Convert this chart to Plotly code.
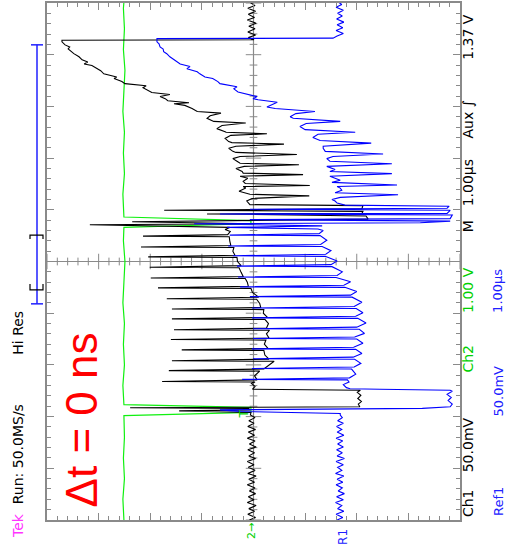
import plotly.graph_objects as go

# ---------------- data (time in µs = horizontal divisions, amplitude in vertical divisions) -------------
CH1_PRE = [(0.00,0.08),(0.05,-0.04),(0.11,0.11),(0.17,-0.02),(0.22,0.09),(0.28,-0.05),(0.34,0.12),(0.39,-0.01),
           (0.45,0.10),(0.51,-0.04),(0.56,0.08),(0.62,-0.03),(0.68,0.12),(0.73,-0.02),(0.79,0.09),(0.85,-0.05),
           (0.90,0.11),(0.96,-0.03),(1.02,0.10),(1.07,-0.01),(1.13,0.12),(1.19,-0.04),(1.24,0.09),(1.30,-0.02),
           (1.36,0.11),(1.41,-0.05),(1.47,0.08),(1.53,-0.03),(1.58,0.12),(1.64,-0.02),(1.70,0.10),(1.75,-0.04),
           (1.81,0.11),(1.87,-0.01),(1.92,0.09),(1.98,-0.03),(2.03,0.06)]
CH1_BURST1 = [(2.08,0.05),(2.11,1.44),(2.13,0.06),(2.16,0.10),(2.17,2.39),(2.19,-2.06),(2.24,-2.03),(2.29,-2.09),
              (2.35,-2.02),(2.41,-2.08),(2.47,-2.01),(2.51,-2.07),(2.53,0.02),(2.58,-0.03),(2.64,0.04)]
CH1_PULSES = [(2.67,-0.03),(2.68,1.77),(2.71,-0.07),(2.79,-0.02),
              (2.88,-0.12),(2.89,1.64),(2.92,-0.20),(2.99,-0.30),
              (3.07,-0.40),(3.08,1.58),(3.11,-0.30),(3.19,-0.22),
              (3.28,-0.20),(3.29,1.39),(3.32,-0.28),(3.40,-0.21),
              (3.48,-0.24),(3.49,1.60),(3.52,-0.30),(3.60,-0.25),
              (3.67,-0.31),(3.68,1.54),(3.71,-0.25),(3.80,-0.29),
              (3.88,-0.22),(3.89,1.58),(3.92,-0.27),(4.00,-0.19),
              (4.07,-0.20),(4.08,1.58),(4.11,-0.14),(4.19,-0.12),
              (4.27,-0.06),(4.28,1.68),(4.31,-0.10),(4.40,0.02),
              (4.48,0.05),(4.49,1.85),(4.52,0.10),(4.60,0.12),
              (4.67,0.16),(4.68,1.99),(4.71,0.20),(4.79,0.24),
              (4.88,0.28),(4.89,2.01),(4.92,0.24),(5.00,0.31),
              (5.08,0.32),(5.09,2.04),(5.12,0.36),(5.20,0.40),
              (5.27,0.38),(5.28,2.18),(5.31,0.44),(5.40,0.46),
              (5.48,0.47),(5.49,2.14),(5.52,0.50),(5.58,0.45)]
CH1_BURST2 = [(5.62,0.55),(5.66,0.46),(5.71,3.17),(5.73,-0.01),(5.77,2.35),(5.82,-2.22),(5.88,-2.18),(5.92,0.90),
              (5.93,-2.10),(5.97,-2.12),(5.99,1.73),(6.02,-2.10),(6.08,-2.12),(6.10,0.07)]
CH1_RAMP = [(6.17,0.13),(6.22,0.03),(6.27,-1.08),(6.30,0.07),(6.36,0.28),(6.42,0.15),(6.45,0.20),(6.47,-1.09),
            (6.51,0.16),(6.55,0.20),(6.61,0.11),(6.65,0.26),(6.68,-0.96),(6.71,0.20),(6.74,0.22),(6.80,0.34),
            (6.84,0.18),(6.87,-0.88),(6.90,0.26),(6.94,0.32),(6.99,0.40),(7.03,0.26),(7.07,-0.84),(7.11,0.34),
            (7.13,0.40),(7.19,0.48),(7.23,0.34),(7.27,-0.59),(7.30,0.42),(7.32,0.48),(7.38,0.55),(7.44,0.44),
            (7.47,-0.26),(7.50,0.53),(7.51,0.55),(7.57,0.71),(7.63,0.61),(7.68,0.15),(7.71,0.77),(7.77,0.90),
            (7.82,0.84),(7.87,0.63),(7.90,1.09),(7.96,1.19),(8.02,1.33),(8.05,1.54),(8.07,1.25),(8.11,1.66),
            (8.15,1.71),(8.19,1.81),(8.23,1.62),(8.27,1.97),(8.32,2.06),(8.36,2.14),(8.40,2.08),(8.44,2.49),
            (8.48,2.55),(8.54,2.70),(8.57,2.65),(8.63,2.90),(8.69,2.96),(8.73,3.03),(8.79,3.13),(8.82,3.28),
            (8.86,3.21),(8.90,3.32),(8.96,3.38),(9.02,3.48),(9.06,3.52),(9.11,3.59),(9.15,3.56),(9.19,3.65),
            (9.25,3.71),(9.28,3.71)]
CH1_POST = [(9.29,-0.01),(9.33,0.10),(9.38,-0.04),(9.44,0.11),(9.50,-0.03),(9.55,0.09),(9.61,-0.05),(9.67,0.12),
            (9.72,-0.02),(9.78,0.10),(9.84,-0.04),(9.90,0.11),(9.95,-0.03),(10.02,0.08)]

REF1_PRE = [(0.00,-1.62),(0.05,-1.73),(0.11,-1.60),(0.17,-1.75),(0.22,-1.63),(0.28,-1.71),(0.34,-1.59),(0.39,-1.74),
            (0.45,-1.61),(0.51,-1.76),(0.56,-1.64),(0.62,-1.72),(0.68,-1.60),(0.73,-1.73),(0.79,-1.62),(0.85,-1.75),
            (0.90,-1.59),(0.96,-1.71),(1.02,-1.63),(1.07,-1.74),(1.13,-1.60),(1.19,-1.76),(1.24,-1.62),(1.30,-1.72),
            (1.36,-1.61),(1.41,-1.74),(1.47,-1.63),(1.53,-1.73),(1.58,-1.60),(1.64,-1.75),(1.70,-1.62),(1.75,-1.71),
            (1.81,-1.61),(1.87,-1.74),(1.92,-1.63),(1.98,-1.72),(2.03,-1.68)]
REF1_BURST1 = [(2.06,-1.68),(2.10,0.26),(2.13,0.65),(2.16,-3.27),(2.19,-3.81),(2.24,-3.85),(2.31,-3.77),(2.37,-3.83),
               (2.43,-3.75),(2.49,-3.85),(2.51,-3.81),(2.53,-2.45),(2.54,-1.87),(2.56,-1.80),(2.62,-1.74),(2.67,-1.85)]
REF1_PULSES = [(2.71,-1.82),(2.72,0.22),(2.75,-1.86),(2.82,-1.98),
               (2.92,-1.90),(2.93,0.03),(2.96,-1.95),(3.03,-2.08),
               (3.11,-1.96),(3.12,0.01),(3.15,-1.93),(3.22,-2.10),
               (3.30,-1.98),(3.31,0.03),(3.34,-1.94),(3.42,-2.12),
               (3.50,-2.00),(3.51,0.01),(3.54,-1.96),(3.61,-2.15),
               (3.69,-2.05),(3.70,0.01),(3.73,-2.00),(3.81,-2.18),
               (3.90,-2.02),(3.91,0.03),(3.94,-1.98),(4.01,-2.12),
               (4.09,-1.99),(4.10,0.03),(4.13,-1.95),(4.21,-2.10),
               (4.31,-1.91),(4.32,0.07),(4.35,-1.88),(4.42,-2.00),
               (4.50,-1.77),(4.51,0.26),(4.54,-1.75),(4.61,-1.88),
               (4.69,-1.60),(4.70,0.30),(4.73,-1.62),(4.80,-1.72),
               (4.90,-1.52),(4.91,0.32),(4.94,-1.50),(5.01,-1.62),
               (5.10,-1.39),(5.11,0.40),(5.14,-1.40),(5.21,-1.50),
               (5.29,-1.33),(5.30,0.49),(5.33,-1.30),(5.41,-1.42),
               (5.50,-1.29),(5.51,0.46),(5.54,-1.27),(5.60,-1.35)]
REF1_BURST2 = [(5.63,-1.25),(5.66,0.51),(5.69,-1.33),(5.73,1.15),(5.75,-3.23),(5.78,-3.81),(5.81,0.07),(5.83,-3.81),
               (5.90,-3.85),(5.92,0.65),(5.93,-3.75),(5.99,-3.81),(6.01,0.07),(6.03,-3.75),(6.07,-3.79),(6.09,-1.77),
               (6.13,-1.62)]
REF1_RAMP = [(6.17,-1.58),(6.20,-1.52),(6.24,-1.68),(6.29,-2.80),(6.33,-1.58),(6.38,-1.71),(6.42,-1.68),(6.45,-1.62),
             (6.48,-2.78),(6.53,-1.52),(6.57,-1.68),(6.61,-1.58),(6.65,-1.48),(6.70,-2.68),(6.74,-1.48),(6.78,-1.58),
             (6.80,-1.52),(6.84,-1.42),(6.89,-2.68),(6.94,-1.48),(6.99,-1.42),(7.03,-1.54),(7.08,-2.51),(7.13,-1.39),
             (7.19,-1.35),(7.23,-1.35),(7.29,-2.28),(7.34,-1.29),(7.40,-1.15),(7.46,-1.25),(7.50,-1.97),(7.55,-1.00),
             (7.61,-0.90),(7.67,-1.02),(7.71,-1.68),(7.77,-0.77),(7.80,-0.71),(7.86,-0.82),(7.90,-1.19),(7.96,-0.42),
             (7.99,-0.26),(8.03,-0.36),(8.08,-0.46),(8.13,-0.09),(8.15,0.01),(8.19,-0.07),(8.25,0.16),(8.28,0.30),
             (8.34,0.38),(8.38,0.32),(8.44,0.65),(8.48,0.69),(8.54,0.79),(8.57,0.94),(8.63,1.04),(8.67,1.09),
             (8.73,1.29),(8.77,1.23),(8.82,1.42),(8.86,1.48),(8.90,1.54),(8.96,1.62),(9.02,1.68),(9.06,1.74),
             (9.11,1.75),(9.15,1.81),(9.21,1.83),(9.25,1.87),(9.31,1.87)]
REF1_POST = [(9.32,-1.54),(9.36,-1.62),(9.41,-1.74),(9.47,-1.60),(9.52,-1.73),(9.58,-1.62),(9.63,-1.75),(9.69,-1.61),
             (9.75,-1.72),(9.80,-1.63),(9.86,-1.74),(9.92,-1.60),(9.97,-1.71),(10.02,-1.64)]

CH2 = [(0.00,2.51),(0.40,2.53),(0.80,2.50),(1.20,2.52),(1.60,2.50),(2.02,2.51),(2.08,0.05),(2.18,0.05),(2.23,2.51),
       (2.60,2.53),(3.00,2.50),(3.40,2.52),(3.80,2.50),(4.20,2.53),(4.60,2.51),(5.00,2.49),(5.40,2.52),(5.66,2.51),
       (5.73,0.05),(5.79,0.05),(5.86,2.51),(6.30,2.53),(6.70,2.50),(7.10,2.52),(7.50,2.50),(7.90,2.53),(8.30,2.51),
       (8.70,2.49),(9.10,2.52),(9.50,2.50),(9.90,2.52),(10.02,2.51)]

MAJOR_TICKS = [0, 1, 2, 3, 4, 5, 6, 7, 8, 9, 10]

# ---------------- figure -------------
W, H = 507, 558
L, R, T, B = 47, 47, 1, 38
PW, PH = W - L - R, H - T - B
GRID = "#8a8a8a"


def px(x):
    return (x - L) / PW


def py(y):
    return (H - B - y) / PH


def unzip(*segs):
    pts = [p for s in segs for p in s]
    return [p[1] for p in pts], [p[0] for p in pts]


fig = go.Figure()
gx, gy = unzip(CH2)
fig.add_trace(go.Scatter(x=gx, y=gy, mode="lines", line=dict(color="#10f010", width=1.2), hoverinfo="skip"))
bx, by = unzip(CH1_PRE, CH1_BURST1, CH1_PULSES, CH1_BURST2, CH1_RAMP, CH1_POST)
fig.add_trace(go.Scatter(x=bx, y=by, mode="lines", line=dict(color="#000000", width=1.1), hoverinfo="skip"))
rx, ry = unzip(REF1_PRE, REF1_BURST1, REF1_PULSES, REF1_BURST2, REF1_RAMP, REF1_POST)
fig.add_trace(go.Scatter(x=rx, y=ry, mode="lines", line=dict(color="#0000ff", width=1.1), hoverinfo="skip"))

shapes = []
# centre cross lines
shapes.append(dict(type="line", xref="x", yref="y", x0=0, x1=0, y0=0, y1=10, line=dict(color=GRID, width=1.2), layer="below"))
shapes.append(dict(type="line", xref="x", yref="y", x0=-4, x1=4, y0=5, y1=5, line=dict(color=GRID, width=1.2), layer="below"))
# centre cross ticks (every 0.2 div)
for i in range(51):
    t = i * 0.2
    ln = 0.15 if abs(t - round(t)) < 1e-6 else 0.075
    shapes.append(dict(type="line", xref="x", yref="y", x0=-ln, x1=ln, y0=t, y1=t, line=dict(color=GRID, width=1), layer="below"))
for i in range(41):
    a = -4 + i * 0.2
    ln = 0.15 if abs(a - round(a)) < 1e-6 else 0.075
    shapes.append(dict(type="line", xref="x", yref="y", x0=a, x1=a, y0=5 - ln, y1=5 + ln, line=dict(color=GRID, width=1), layer="below"))

# record-view bar on the left
BLUE = "#2020ff"
shapes += [
    dict(type="line", xref="paper", yref="paper", x0=px(37), x1=px(37), y0=py(43), y1=py(303), line=dict(color=BLUE, width=1.5)),
    dict(type="line", xref="paper", yref="paper", x0=px(31), x1=px(43), y0=py(43), y1=py(43), line=dict(color=BLUE, width=1.5)),
    dict(type="line", xref="paper", yref="paper", x0=px(31), x1=px(43), y0=py(303), y1=py(303), line=dict(color=BLUE, width=1.5)),
    dict(type="path", xref="paper", yref="paper",
         path=f"M {px(30)},{py(238)} L {px(30)},{py(234)} L {px(43)},{py(234)} L {px(43)},{py(238)}",
         line=dict(color="black", width=1.2)),
    dict(type="path", xref="paper", yref="paper",
         path=f"M {px(30)},{py(283)} L {px(30)},{py(289)} L {px(43)},{py(289)} L {px(43)},{py(283)}",
         line=dict(color="black", width=1.2)),
]

FONT = "DejaVu Sans"


def label(text, x, y, color="black", size=14, family=FONT):
    return dict(text=text, xref="paper", yref="paper", x=px(x), y=py(y), showarrow=False, textangle=-90,
                xanchor="center", yanchor="middle", font=dict(family=family, size=size, color=color))


GREEN_T = "#00d000"
annotations = [
    label("Tek", 18, 526, color="#ff33ff"),
    label("Run: 50.0MS/s", 18, 454),
    label("Hi Res", 18, 332),
    label("Δt = 0 ns", 81, 420, color="#ff0000", size=44, family="Liberation Sans"),
    label("Ch1", 468, 503),
    label("50.0mV", 468, 445),
    label("Ch2", 468, 358, color=GREEN_T),
    label("1.00 V", 468, 289, color=GREEN_T),
    label("M", 468, 225),
    label("1.00µs", 468, 182),
    label("Aux ∫", 468, 118),
    label("1.37 V", 468, 35),
    label("Ref1", 498, 502, color="#2020ff", size=13),
    label("50.0mV", 498, 391, color="#2020ff", size=13),
    label("1.00µs", 498, 290, color="#2020ff", size=13),
    label("R1", 343, 537, color="#2020ff", size=12),
    label("2→", 252, 531, color=GREEN_T, size=11),
    label("T", 244, 414, color=GREEN_T, size=12),
]

fig.update_layout(
    width=W, height=H,
    margin=dict(l=L, r=R, t=T, b=B, pad=0),
    paper_bgcolor="white", plot_bgcolor="white",
    showlegend=False,
    shapes=shapes,
    annotations=annotations,
    xaxis=dict(range=[4, -4], showgrid=False, zeroline=False, showticklabels=False,
               showline=True, linecolor=GRID, linewidth=1.5, mirror="allticks",
               ticks="inside", ticklen=7, tickcolor=GRID, tick0=0, dtick=1,
               minor=dict(ticks="inside", ticklen=4, tickcolor=GRID, dtick=0.2, showgrid=False)),
    yaxis=dict(range=[0, 10], showgrid=False, zeroline=False, showticklabels=False,
               showline=True, linecolor=GRID, linewidth=1.5, mirror="allticks",
               ticks="inside", ticklen=7, tickcolor=GRID, tick0=0, tickvals=MAJOR_TICKS,
               minor=dict(ticks="inside", ticklen=4, tickcolor=GRID, dtick=0.2, showgrid=False)),
)

fig.write_html("out.html", config={"displayModeBar": False},
               post_script="document.body.style.margin='0';document.body.style.overflow='hidden';")
